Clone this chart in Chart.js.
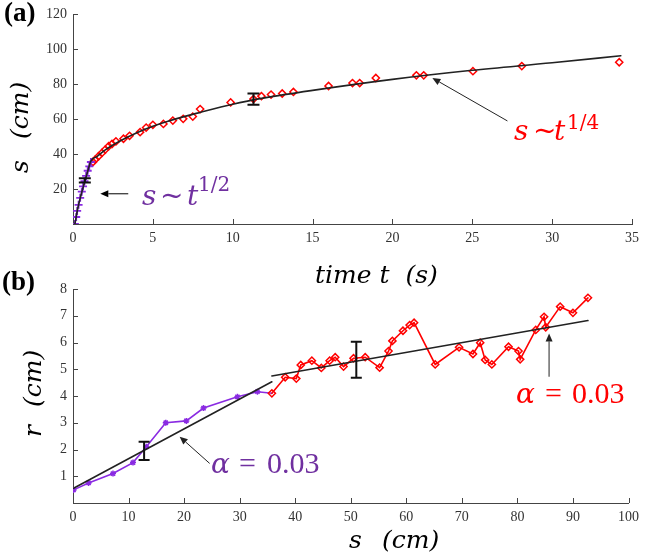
<!DOCTYPE html>
<html><head><meta charset="utf-8">
<script src="https://cdn.jsdelivr.net/npm/chart.js@4.4.0/dist/chart.umd.min.js"></script>
<style>
html,body{margin:0;padding:0;background:#fff;}
#wrap{position:relative;width:645px;height:556px;overflow:hidden;}
canvas{position:absolute;left:0;top:0;}
</style></head><body>
<div id="wrap"><canvas id="ca" width="645" height="556"></canvas><canvas id="cb" width="645" height="556"></canvas></div>
<script>
// ---------- Panel (a): s vs time ----------
const timeTicks = [0,5,10,15,20,25,30,35];
const sTicksA = [0,20,40,60,80,100,120];
const earlyT = [0.12,0.2,0.26,0.35,0.45,0.55,0.63,0.72,0.82,0.92,1.02,1.12];
const earlyS = [0,4,7.5,11,15,18.5,21.5,24.5,27.5,30.5,33,35.5];
const lateT = [1.25,1.39,1.6,1.81,2.02,2.23,2.44,2.69,3.16,3.54,4.2,4.58,5.0,5.66,6.25,6.9,7.5,7.96,9.87,11.3,11.8,12.4,13.1,13.8,16.0,17.5,17.95,18.96,21.5,21.96,25.04,28.1,34.2];
const lateS = [35.5,36.9,38.8,40.7,42.6,44.5,45.8,47.3,48.8,50.5,52.6,55.2,56.8,57.3,59.2,60.2,61.5,65.8,69.6,71.5,73.2,74.1,74.7,75.6,79.0,80.7,80.7,83.6,85.1,85.1,87.5,90.4,92.6];
const fitT = [0.12,0.3,0.5,0.7,0.9,1.12,1.5,2,3,4,5,6,8,10,12,15,20,25,30,34.3];
const fitS = [0,9,16.5,23,29.5,36,38.6,42.3,47.8,52.3,56,59,64,68.6,72.2,76.5,82.8,88,92.3,96.3];
const errAT = [0.74,11.3];
const errALo = [23.7,68.3];
const errAHi = [26.2,74.7];

// ---------- Panel (b): r vs s ----------
const sTicksB = [0,10,20,30,40,50,60,70,80,90,100];
const rTicks = [0,1,2,3,4,5,6,7,8];
const purpleS = [0.1,2.8,7.2,10.8,13.2,16.7,20.4,23.5,29.6,33.2,35.8];
const purpleR = [0.49,0.75,1.1,1.51,2.1,3.0,3.07,3.55,3.97,4.16,4.1];
const redS = [35.8,38.2,40.2,41.0,43.0,44.7,46.2,47.2,48.7,50.5,52.6,55.2,56.8,57.5,59.4,60.6,61.4,65.2,69.5,72.0,73.3,74.2,75.4,78.4,80.2,80.5,83.3,84.8,85.1,87.7,90.0,92.7];
const redR = [4.1,4.7,4.65,5.16,5.32,5.05,5.32,5.45,5.1,5.41,5.45,5.06,5.68,6.06,6.44,6.65,6.74,5.18,5.82,5.57,5.99,5.35,5.18,5.84,5.68,5.37,6.47,6.96,6.57,7.34,7.11,7.67];
const fitPurpleS = [0.1,35.8];
const fitPurpleR = [0.55,4.53];
const fitRedS = [35.8,92.7];
const fitRedR = [4.75,6.82];
const errBS = [12.8,51.0];
const errBLo = [1.61,4.68];
const errBHi = [2.29,6.03];

const PURPLE = '#8a2be2';
const PURPLE_TXT = '#7030a0';
const RED = '#ff0000';
const LINE = '#222222';
const AXIS = '#444444';

const pts = (xs, ys) => xs.map((v,i)=>({x:v, y:ys[i]}));

function arrow(ctx,x1,y1,x2,y2,color){
  ctx.save(); ctx.strokeStyle=color; ctx.fillStyle=color; ctx.lineWidth=1;
  const a=Math.atan2(y2-y1,x2-x1), L=8, W=3.5;
  const bx=x2-L*Math.cos(a), by=y2-L*Math.sin(a);
  ctx.beginPath(); ctx.moveTo(x1,y1); ctx.lineTo(bx,by); ctx.stroke();
  ctx.beginPath(); ctx.moveTo(x2,y2);
  ctx.lineTo(bx+W*Math.sin(a), by-W*Math.cos(a));
  ctx.lineTo(bx-W*Math.sin(a), by+W*Math.cos(a));
  ctx.closePath(); ctx.fill(); ctx.restore();
}
function txt(ctx,s,x,y,font,color){
  ctx.save(); ctx.font=font; ctx.fillStyle=color; ctx.textAlign='left'; ctx.textBaseline='alphabetic';
  ctx.fillText(s,x,y); ctx.restore();
}
function inwardTicks(chart,xs,ys){
  const {ctx, chartArea:a, scales:{x,y}} = chart;
  ctx.save(); ctx.strokeStyle=AXIS; ctx.lineWidth=1;
  xs.forEach(v=>{const px=Math.round(x.getPixelForValue(v))+0.5; ctx.beginPath(); ctx.moveTo(px,a.bottom); ctx.lineTo(px,a.bottom-5); ctx.stroke();});
  ys.forEach(v=>{const py=Math.round(y.getPixelForValue(v))+0.5; ctx.beginPath(); ctx.moveTo(a.left,py); ctx.lineTo(a.left+5,py); ctx.stroke();});
  ctx.restore();
}
function errBars(chart,xs,lo,hi,cap){
  const {ctx, scales:{x,y}} = chart;
  ctx.save(); ctx.strokeStyle='#111'; ctx.lineWidth=2;
  xs.forEach((v,i)=>{
    const px=x.getPixelForValue(v), p1=y.getPixelForValue(lo[i]), p2=y.getPixelForValue(hi[i]);
    ctx.beginPath();
    ctx.moveTo(px,p1); ctx.lineTo(px,p2);
    ctx.moveTo(px-cap,p1); ctx.lineTo(px+cap,p1);
    ctx.moveTo(px-cap,p2); ctx.lineTo(px+cap,p2);
    ctx.stroke();
  });
  ctx.restore();
}
function rotText(ctx,parts,x,y){
  ctx.save(); ctx.translate(x,y); ctx.rotate(-Math.PI/2);
  parts.forEach(p=>txt(ctx,p[0],p[1],0,p[2],'#000'));
  ctx.restore();
}

const MATH = 'italic 28px "DejaVu Serif"';
const TITLE = 'italic 25px "DejaVu Serif"';
const SUP = '20px "DejaVu Serif"';
const NUM = '30px "Liberation Serif"';

const decoA = {
  id:'decoA',
  afterDatasetsDraw(chart){
    const {ctx, scales:{x,y}} = chart;
    inwardTicks(chart, timeTicks.slice(1), sTicksA.slice(1));
    errBars(chart, errAT, errALo, errAHi, 6);
    arrow(ctx, x.getPixelForValue(3.46), y.getPixelForValue(17.3), x.getPixelForValue(1.71), y.getPixelForValue(17.3), '#000');
    txt(ctx,'s',142,205,MATH,PURPLE_TXT);
    txt(ctx,'~',160,205,MATH,PURPLE_TXT);
    txt(ctx,'t',187,205,MATH,PURPLE_TXT);
    txt(ctx,'1/2',198,191,SUP,PURPLE_TXT);
    arrow(ctx, x.getPixelForValue(27.2), y.getPixelForValue(59.0), x.getPixelForValue(22.5), y.getPixelForValue(83.6), '#222');
    txt(ctx,'s',514,140,MATH,RED);
    txt(ctx,'~',533,140,MATH,RED);
    txt(ctx,'t',554,140,MATH,RED);
    txt(ctx,'1/4',567,129,SUP,RED);
    txt(ctx,'time t  (s)',315,283,TITLE,'#000');
    rotText(ctx,[['s',0,TITLE],['(cm)',34,TITLE]],28,173);
    txt(ctx,'(a)',4,21,'bold 27px "Liberation Serif"','#000');
  }
};
const decoB = {
  id:'decoB',
  afterDatasetsDraw(chart){
    const {ctx, scales:{x,y}} = chart;
    inwardTicks(chart, sTicksB.slice(1), rTicks.slice(1));
    errBars(chart, errBS, errBLo, errBHi, 5.5);
    arrow(ctx, x.getPixelForValue(24.6), y.getPixelForValue(1.48), x.getPixelForValue(19.2), y.getPixelForValue(2.48), '#222');
    txt(ctx,'\u03B1',211,473,MATH,PURPLE_TXT);
    txt(ctx,'=',239,473,NUM,PURPLE_TXT);
    txt(ctx,'0.03',267,473,NUM,PURPLE_TXT);
    arrow(ctx, x.getPixelForValue(85.7), y.getPixelForValue(4.72), x.getPixelForValue(85.7), y.getPixelForValue(6.34), '#222');
    txt(ctx,'\u03B1',516,403,MATH,RED);
    txt(ctx,'=',545,403,NUM,RED);
    txt(ctx,'0.03',572,403,NUM,RED);
    txt(ctx,'s',349,548,TITLE,'#000');
    txt(ctx,'(cm)',382,548,TITLE,'#000');
    rotText(ctx,[['r',0,TITLE],['(cm)',30,TITLE]],41,437);
    txt(ctx,'(b)',2,290,'bold 27px "Liberation Serif"','#000');
  }
};

function axisCfg(min,max,tickVals,isX,extra){
  return Object.assign({
    type:'linear', min:min, max:max,
    afterBuildTicks: s => { s.ticks = tickVals.map(v=>({value:v})); },
    grid:{display:false, drawTicks:false},
    border:{display:true, color:AXIS, width:1},
    ticks:{font:{family:'"Liberation Serif"', size:14}, color:'#333', padding: isX?6:6, maxRotation:0, autoSkip:false,
      callback: v => (!isX && v===0) ? '' : String(v)}
  }, extra||{});
}

const baseOpts = {
  responsive:false, animation:false, devicePixelRatio:1,
  plugins:{legend:{display:false}, tooltip:{enabled:false}, title:{display:false}},
  elements:{line:{borderCapStyle:'round'}}
};

new Chart(document.getElementById('ca'), {
  type:'line',
  data:{datasets:[
    {data:pts(fitT,fitS), borderColor:LINE, borderWidth:1.6, pointRadius:0, cubicInterpolationMode:'monotone', fill:false},
    {data:pts(earlyT,earlyS), showLine:false, pointStyle:'cross', pointRadius:4, borderColor:PURPLE, pointBorderWidth:1.8},
    {data:pts(lateT,lateS), showLine:false, pointStyle:'rectRot', pointRadius:3.6, borderColor:RED, backgroundColor:'rgba(255,255,255,0)', pointBorderWidth:1.5}
  ]},
  options:Object.assign({}, baseOpts, {
    layout:{padding:{left:0,right:13,top:12,bottom:302}},
    scales:{
      x: axisCfg(0,35,timeTicks,true,{afterFit:s=>{s.height=30;}}),
      y: axisCfg(0,120,sTicksA,false,{afterFit:s=>{s.width=73;}})
    }
  }),
  plugins:[decoA]
});

new Chart(document.getElementById('cb'), {
  type:'line',
  data:{datasets:[
    {data:pts(fitPurpleS,fitPurpleR), borderColor:LINE, borderWidth:1.6, pointRadius:0},
    {data:pts(fitRedS,fitRedR), borderColor:LINE, borderWidth:1.6, pointRadius:0},
    {data:pts(redS,redR), borderColor:RED, borderWidth:1.6, pointStyle:'rectRot', pointRadius:3.6, pointBorderColor:RED, pointBackgroundColor:'rgba(255,255,255,0)', pointBorderWidth:1.5},
    {data:pts(purpleS,purpleR), borderColor:PURPLE, borderWidth:1.6, pointStyle:'star', pointRadius:purpleS.map((v,i)=> i===purpleS.length-1 ? 0 : 3), pointBorderColor:PURPLE, pointBorderWidth:1.5}
  ]},
  options:Object.assign({}, baseOpts, {
    layout:{padding:{left:0,right:13,top:289,bottom:23}},
    scales:{
      x: axisCfg(0,100,sTicksB,true,{afterFit:s=>{s.height=30;}}),
      y: axisCfg(0,8,rTicks,false,{afterFit:s=>{s.width=73;}})
    }
  }),
  plugins:[decoB]
});
</script>
</body></html>
